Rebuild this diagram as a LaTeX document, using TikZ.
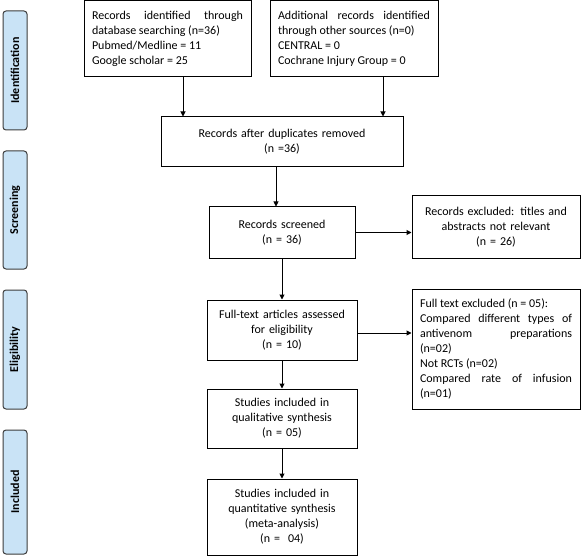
\documentclass[tikz,border=0pt]{standalone}
\usepackage{fontspec}
\setmainfont{Carlito}
\usetikzlibrary{arrows.meta}
\definecolor{labblue}{HTML}{C9E3F6}
\definecolor{labline}{HTML}{3C3C3C}
\tikzset{
    flowbox/.style={draw=black, line width=1pt, inner xsep=8pt, inner ysep=2pt, font=\fontsize{12}{15}\selectfont},
    stagelab/.style={draw=labline, fill=labblue, line width=1pt, rounded corners=3pt, rotate=90, minimum height=24pt, inner sep=0pt, font=\fontsize{12}{14}\selectfont\bfseries},
    flowarrow/.style={-{Triangle[length=5pt,width=5pt]}, line width=1pt}
}
\begin{document}
\begin{tikzpicture}[x=1pt,y=1pt]
    \useasboundingbox (0,0) rectangle (581,-556);
    \node [stagelab, minimum width=119pt] (ident) at (15,-70.5) {Identification};
    \node [stagelab, minimum width=118pt] (screen) at (15,-210) {Screening};
    \node [stagelab, minimum width=119pt] (elig) at (15,-349.5) {Eligibility};
    \node [stagelab, minimum width=124pt] (incl) at (15,-492) {Included};
    \node [flowbox, minimum width=167pt, minimum height=76pt, text width=151pt, align=justify] (dbsearch) at (167.5,-39) {Records identified through\linebreak database searching (n=36)\\Pubmed/Medline = 11\\Google scholar = 25};
    \node [flowbox, minimum width=168pt, minimum height=76pt, text width=152pt, align=justify] (othersrc) at (354,-39) {Additional records identified\linebreak through other sources (n=0)\\CENTRAL = 0\\Cochrane Injury Group = 0};
    \node [flowbox, minimum width=242pt, minimum height=50pt, text width=226pt, align=center] (dedup) at (282,-142) {Records after duplicates removed\\(n =36)};
    \node [flowbox, minimum width=146pt, minimum height=51pt, text width=130pt, align=center] (screened) at (282,-232.5) {Records screened\\(n = 36)};
    \node [flowbox, minimum width=168pt, minimum height=62pt, text width=152pt, align=center] (exclabs) at (496,-227) {Records excluded: titles and\\abstracts not relevant\\(n = 26)};
    \node [flowbox, minimum width=150pt, minimum height=60pt, text width=134pt, align=center] (fulltext) at (282,-330) {Full-text articles assessed\\for eligibility\\(n = 10)};
    \node [flowbox, minimum width=168pt, minimum height=120pt, text width=152pt, align=justify] (exclfull) at (496,-349) {Full text excluded (n = 05):\\Compared different types of\linebreak antivenom preparations\linebreak (n=02)\\Not RCTs (n=02)\\Compared rate of infusion\linebreak (n=01)};
    \node [flowbox, minimum width=150pt, minimum height=59pt, text width=134pt, align=center] (qualsyn) at (282,-418.5) {Studies included in\\qualitative synthesis\\(n = 05)};
    \node [flowbox, minimum width=150pt, minimum height=76pt, text width=134pt, align=center] (quantsyn) at (282,-517) {Studies included in\\quantitative synthesis\\(meta-analysis)\\(n = \ 04)};
    \coordinate (dbfoot) at ([xshift=15.5pt]dbsearch.south);
    \coordinate (otherfoot) at ([xshift=29pt]othersrc.south);
    \coordinate (dedupfoot) at ([xshift=-6pt]dedup.south);
    \coordinate (fullside) at ([yshift=-3pt]fulltext.east);
    \draw [flowarrow] (dbfoot) -- (dbfoot |- dedup.north);
    \draw [flowarrow] (otherfoot) -- (otherfoot |- dedup.north);
    \draw [flowarrow, line width=0.7pt] (dedupfoot) -- (dedupfoot |- screened.north);
    \draw [flowarrow] (screened.east) -- (screened.east -| exclabs.west);
    \draw [flowarrow] (screened.south) -- (fulltext.north);
    \draw [flowarrow] (fullside) -- (fullside -| exclfull.west);
    \draw [flowarrow] (fulltext.south) -- (qualsyn.north);
    \draw [flowarrow] (qualsyn.south) -- (quantsyn.north);
\end{tikzpicture}
\end{document}
